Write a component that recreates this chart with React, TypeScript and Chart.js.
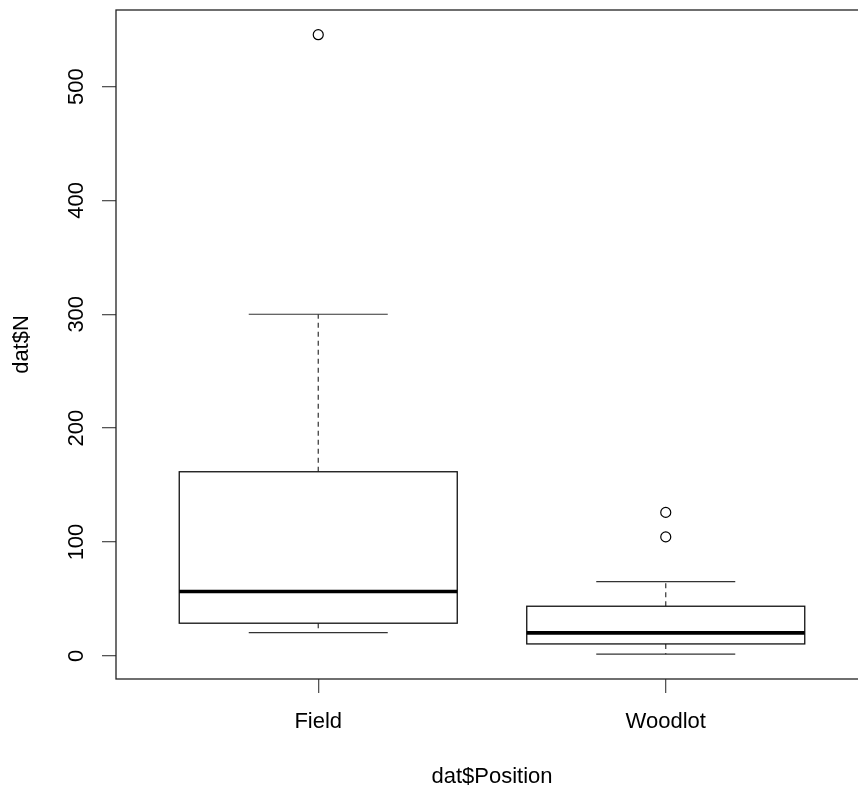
import React, { useEffect, useRef } from 'react';
import { Chart, registerables } from 'chart.js';

Chart.register(...registerables);

// ---- data ----
const categories = ['Field', 'Woodlot'];
const lowerWhisker = [20.5, 1.5];
const lowerQuartile = [28.7, 10.5];
const medians = [56.5, 20.2];
const upperQuartile = [161.7, 43.6];
const upperWhisker = [300, 65.2];
const outlierCategory = [0, 1, 1];
const outlierValue = [545.5, 126, 104.5];
const yTicks = [0, 100, 200, 300, 400, 500];
const yRange = [-20.3, 567.2];
const xRange = [0.418, 2.582];

const FONT = '"Liberation Sans", Arial, sans-serif';
const BOX_HALF = 0.4;
const CAP_HALF = 0.2;

const boxPlugin = {
  id: 'rBoxplot',
  beforeDatasetsDraw(chart: any) {
    const { ctx, scales } = chart;
    const x = scales.x;
    const y = scales.y;
    const line = (x1: number, y1: number, x2: number, y2: number) => {
      ctx.beginPath();
      ctx.moveTo(x1, y1);
      ctx.lineTo(x2, y2);
      ctx.stroke();
    };
    ctx.save();
    categories.forEach((_, i) => {
      const pos = i + 1;
      const cx = x.getPixelForValue(pos);
      const l = x.getPixelForValue(pos - BOX_HALF);
      const r = x.getPixelForValue(pos + BOX_HALF);
      const cl = x.getPixelForValue(pos - CAP_HALF);
      const cr = x.getPixelForValue(pos + CAP_HALF);
      const yLW = y.getPixelForValue(lowerWhisker[i]);
      const yQ1 = y.getPixelForValue(lowerQuartile[i]);
      const yM = y.getPixelForValue(medians[i]);
      const yQ3 = y.getPixelForValue(upperQuartile[i]);
      const yUW = y.getPixelForValue(upperWhisker[i]);

      ctx.strokeStyle = '#333';
      ctx.lineWidth = 1.2;
      ctx.setLineDash([5, 4]);
      line(cx, yQ3, cx, yUW);
      line(cx, yQ1, cx, yLW);
      ctx.setLineDash([]);
      line(cl, yUW, cr, yUW);
      line(cl, yLW, cr, yLW);

      ctx.fillStyle = '#ffffff';
      ctx.fillRect(l, yQ3, r - l, yQ1 - yQ3);
      ctx.strokeStyle = '#111';
      ctx.lineWidth = 1.3;
      ctx.strokeRect(l, yQ3, r - l, yQ1 - yQ3);

      ctx.strokeStyle = '#000';
      ctx.lineWidth = 3.6;
      line(l, yM, r, yM);
    });
    ctx.restore();
  },
  afterDraw(chart: any) {
    const { ctx, chartArea } = chart;
    ctx.save();
    ctx.strokeStyle = '#222';
    ctx.lineWidth = 1.3;
    ctx.strokeRect(chartArea.left, chartArea.top, chartArea.right - chartArea.left, chartArea.bottom - chartArea.top);
    ctx.restore();
  },
};

export default function App() {
  const canvasRef = useRef<HTMLCanvasElement | null>(null);

  useEffect(() => {
    const canvas = canvasRef.current;
    if (!canvas) return;
    const chart = new Chart(canvas, {
      type: 'scatter',
      data: {
        datasets: [
          {
            label: 'outliers',
            data: outlierValue.map((v, k) => ({ x: outlierCategory[k] + 1, y: v })),
            pointRadius: 5,
            pointHoverRadius: 5,
            pointBorderWidth: 1.2,
            pointBorderColor: '#000',
            pointBackgroundColor: 'rgba(0,0,0,0)',
          },
        ],
      },
      options: {
        responsive: false,
        animation: false,
        devicePixelRatio: 1,
        events: [],
        layout: { padding: { top: 10, right: 12, left: 0, bottom: 0 } },
        plugins: {
          legend: { display: false },
          tooltip: { enabled: false },
        },
        scales: {
          x: {
            type: 'linear',
            min: xRange[0],
            max: xRange[1],
            afterBuildTicks: (s: any) => {
              s.ticks = categories.map((_, i) => ({ value: i + 1 }));
            },
            afterFit: (s: any) => {
              s.height = 110;
              s.paddingLeft = 0;
              s.paddingRight = 0;
            },
            border: { display: false },
            grid: {
              drawOnChartArea: false,
              drawTicks: true,
              tickLength: 14,
              color: '#555',
              lineWidth: 1.3,
            },
            ticks: {
              callback: (v: any) => categories[Math.round(Number(v)) - 1] ?? '',
              padding: 15.5,
              maxRotation: 0,
              autoSkip: false,
              color: '#000',
              font: { family: FONT, size: 22 },
            },
            title: {
              display: true,
              text: 'dat$Position',
              color: '#000',
              font: { family: FONT, size: 22, lineHeight: 1.1 },
              padding: { top: 0, bottom: 0 },
            },
          },
          y: {
            type: 'linear',
            min: yRange[0],
            max: yRange[1],
            afterBuildTicks: (s: any) => {
              s.ticks = yTicks.map((v) => ({ value: v }));
            },
            afterFit: (s: any) => {
              s.width = 116;
              s.paddingTop = 0;
              s.paddingBottom = 0;
            },
            border: { display: false },
            grid: {
              drawOnChartArea: false,
              drawTicks: true,
              tickLength: 14,
              color: '#555',
              lineWidth: 1.3,
            },
            ticks: {
              minRotation: 90,
              maxRotation: 90,
              crossAlign: 'center',
              padding: 7,
              color: '#000',
              font: { family: FONT, size: 22 },
            },
            title: {
              display: true,
              text: 'dat$N',
              color: '#000',
              font: { family: FONT, size: 22 },
              padding: { top: 9, bottom: 0 },
            },
          },
        },
      },
      plugins: [boxPlugin],
    } as any);
    return () => chart.destroy();
  }, []);

  return (
    <div
      style={{
        position: 'fixed',
        left: 0,
        top: 0,
        width: 858,
        height: 789,
        overflow: 'hidden',
        background: '#fff',
      }}
    >
      <canvas ref={canvasRef} width={880} height={789} style={{ display: 'block' }} />
    </div>
  );
}
